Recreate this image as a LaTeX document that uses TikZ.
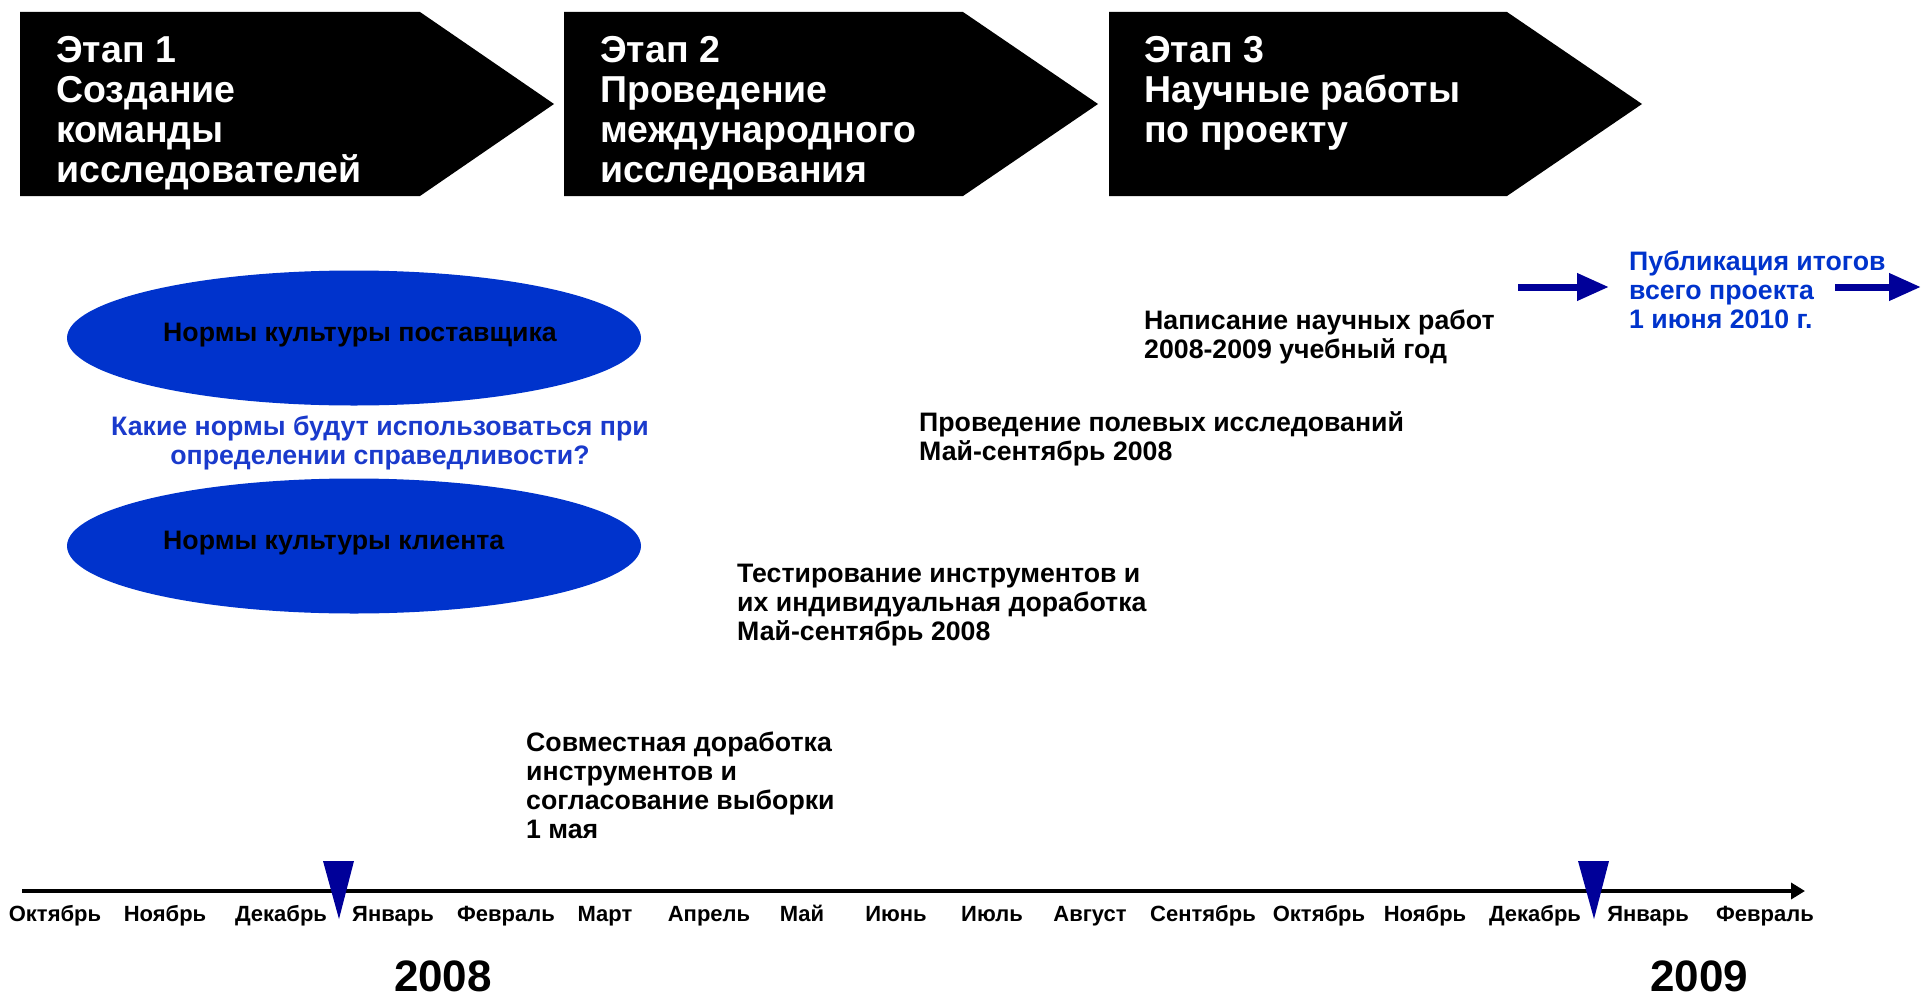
\documentclass[tikz,border=0pt]{standalone}
\usepackage{fontspec}
\setmainfont{Liberation Sans}
\usetikzlibrary{arrows.meta, positioning, shapes.geometric}
\definecolor{normblue}{HTML}{0033CC}
\definecolor{questblue}{HTML}{1A3ACC}
\definecolor{markblue}{HTML}{000099}

\begin{document}
\begin{tikzpicture}[x=1pt, y=-1pt,
    stage/.style={text=white, font=\fontsize{37.5}{40}\selectfont\bfseries, align=left, anchor=west, inner sep=0pt},
    norm/.style={ellipse, fill=normblue, minimum width=574pt, minimum height=135pt, inner sep=0pt},
    normtext/.style={font=\fontsize{26.7}{29}\selectfont\bfseries, anchor=west, inner sep=0pt},
    task/.style={font=\fontsize{26.7}{29}\selectfont\bfseries, align=left, anchor=west, inner sep=0pt},
    month/.style={font=\fontsize{22}{24}\selectfont\bfseries, anchor=base, inner sep=0pt},
    year/.style={font=\fontsize{44}{48}\selectfont\bfseries, anchor=base, inner sep=0pt},
    pubarrow/.style={draw=markblue, line width=7pt, -{Triangle[length=32pt, width=26pt]}},
]
    \useasboundingbox (0,0) rectangle (1921,998);

    % stages
    \fill (20,12) -- (420,12) -- (554,104) -- (420,196) -- (20,196) -- cycle;
    \fill (564,12) -- (963,12) -- (1098,104) -- (963,196) -- (564,196) -- cycle;
    \fill (1109,12) -- (1507,12) -- (1642,104) -- (1507,196) -- (1109,196) -- cycle;
    \node[stage] (st1) at (56,113) {Этап 1\\Создание\\команды\\исследователей};
    \node[stage] (st2) at (600,113) {Этап 2\\Проведение\\международного\\исследования};
    \node[stage] (st3) at (1144,93) {Этап 3\\Научные работы\\по проекту};

    % norms
    \node[norm] (n1) at (354,338) {};
    \node[norm] (n2) at (354,546) {};
    \node[normtext] (n1t) at (163,335) {Нормы культуры поставщика};
    \node[normtext] (n2t) at (163,543) {Нормы культуры клиента};
    \node[task, text=questblue, align=center, anchor=center] (q) at (380,443)
        {Какие нормы будут использоваться при\\определении справедливости?};

    % tasks
    \node[task] (w) at (1144,337) {Написание научных работ\\2008-2009 учебный год};
    \node[task] (f) at (919,439) {Проведение полевых исследований\\Май-сентябрь 2008};
    \node[task] (t) at (737,605) {Тестирование инструментов и\\их индивидуальная доработка\\Май-сентябрь 2008};
    \node[task] (s) at (526,785) {Совместная доработка\\инструментов и\\согласование выборки\\1 мая};

    % publication
    \node[task, text=normblue] (pub) at (1629,290) {Публикация итогов\\всего проекта\\1 июня 2010 г.};
    \coordinate (pa1) at (1518,287);
    \coordinate (pa2) at (1609,287);
    \coordinate (pb1) at (1835,287);
    \coordinate (pb2) at (1921,287);
    \draw[pubarrow] (pa1) -- (pa2);
    \draw[pubarrow] (pb1) -- (pb2);

    % timeline
    \coordinate (t0) at (22,891);
    \coordinate (t1) at (1805,891);
    \draw[line width=3.5pt, -{Triangle[length=14pt, width=16pt]}] (t0) -- (t1);
    \foreach \x/\m [count=\i] in {55/Октябрь, 165/Ноябрь, 281/Декабрь, 393/Январь, 506/Февраль,
        605/Март, 709/Апрель, 802/Май, 896/Июнь, 992/Июль, 1090/Август, 1203/Сентябрь,
        1319/Октябрь, 1425/Ноябрь, 1535/Декабрь, 1648/Январь, 1765/Февраль}
        \node[month] (m\i) at (\x,921) {\m};
    \foreach \x in {339, 1594}
        \fill[markblue] (\x-16,861) -- (\x+15,861) -- (\x,919) -- cycle;
    \node[year] (y1) at (443,991) {2008};
    \node[year] (y2) at (1699,991) {2009};
\end{tikzpicture}
\end{document}
